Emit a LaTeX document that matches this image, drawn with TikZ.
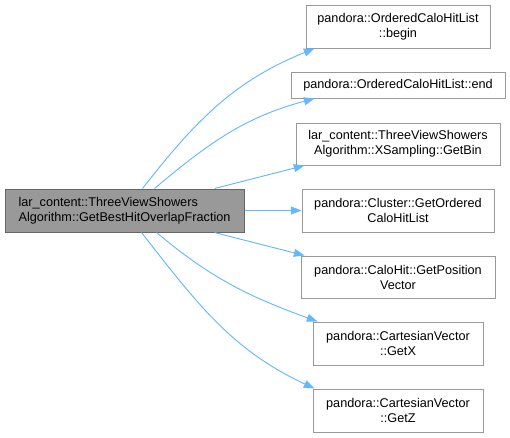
\documentclass[tikz,border=0pt]{standalone}
\usepackage{fontspec}
\setmainfont{Liberation Sans}
\usetikzlibrary{positioning,calc,arrows.meta}
\definecolor{edgeblue}{HTML}{63B8FF}
\definecolor{rootgray}{HTML}{999999}
\definecolor{rootborder}{HTML}{666666}
\definecolor{leafborder}{HTML}{999999}

\begin{document}
\begin{tikzpicture}[x=0.75pt,y=-0.75pt,
    fn/.style={draw=leafborder, fill=white, line width=0.75pt, inner sep=0pt,
        align=center, font=\fontsize{9.5}{11.25}\selectfont},
    root/.style={fn, draw=rootborder, fill=rootgray, align=left},
    call/.style={edgeblue, line width=0.7pt, -{Triangle[length=8pt,width=6pt]}}]

    \useasboundingbox (0,0) rectangle (510,437);

    % Caller
    \node[root, minimum width=179.25pt, minimum height=32.25pt] (best) at (124.5,210.5)
        {lar\_content::ThreeViewShowers\\Algorithm::GetBestHitOverlapFraction};

    % Callees
    \foreach \nm/\y/\w/\h/\txt in {
        begin/26.5/138/32.25/{pandora::OrderedCaloHitList\\::begin},
        end/85/160.5/19.5/{pandora::OrderedCaloHitList::end},
        getbin/144/153/31.5/{lar\_content::ThreeViewShowers\\Algorithm::XSampling::GetBin},
        ordered/210.5/144/32.25/{pandora::Cluster::GetOrdered\\CaloHitList},
        position/277/145.5/31.5/{pandora::CaloHit::GetPosition\\Vector},
        getx/343.5/127.5/32.25/{pandora::CartesianVector\\::GetX},
        getz/410.5/127.5/32.25/{pandora::CartesianVector\\::GetZ}}
        \node[fn, minimum width=\w pt, minimum height=\h pt] (\nm) at (398,\y) {\txt};

    % Calls
    \draw[call] ($(best.north west)+(138,0)$) to[out=52,in=202] ($(begin.south west)+(9,0)$);
    \draw[call] ($(best.north west)+(150,0)$) to[out=40,in=195] ($(end.south west)+(24,0)$);
    \draw[call] ($(best.north west)+(210,0)$) -- ($(getbin.south west)+(9,0)$);
    \draw[call] (best.east) -- (ordered.west);
    \draw[call] ($(best.south west)+(210,0)$) -- ($(position.north west)+(4,0)$);
    \draw[call] ($(best.south west)+(152,0)$) to[out=-40,in=160] ($(getx.north west)+(5,0)$);
    \draw[call] ($(best.south west)+(137,0)$) to[out=-52,in=155] ($(getz.north west)+(2,0)$);

\end{tikzpicture}
\end{document}
